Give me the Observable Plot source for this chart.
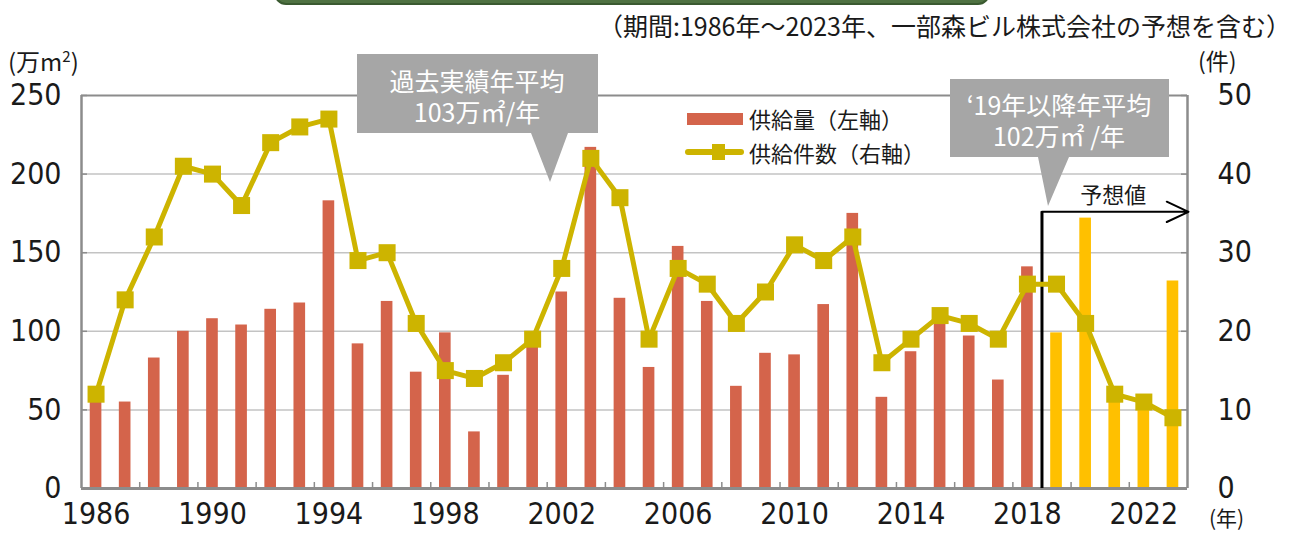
<!DOCTYPE html>
<html><head><meta charset="utf-8">
<script src="https://cdn.jsdelivr.net/npm/d3@7"></script>
<script src="https://cdn.jsdelivr.net/npm/@observablehq/plot@0.6"></script>
<style>
body{margin:0;background:#fff;}
#wrap{position:relative;width:1296px;height:533px;overflow:hidden;font-family:"Liberation Sans Narrow","DejaVu Sans Condensed","Noto Sans CJK JP",sans-serif;color:#1a1a1a;}
.abs{position:absolute;white-space:nowrap;line-height:1;}
.cjk{font-family:"Liberation Sans Narrow","Noto Sans CJK JP",sans-serif;}
</style></head><body>
<div id="wrap">
  <div id="chart" class="abs" style="left:0;top:0"></div>
  <div class="abs" style="left:274px;top:-22px;width:712px;height:23px;background:#4f7242;border:2px solid #3a5a30;border-radius:12px;"></div>
  <div class="abs cjk" style="right:5px;top:13px;font-size:25px;">（期間:1986年～2023年、一部森ビル株式会社の予想を含む）</div>
  <div class="abs cjk" style="left:8px;top:48px;font-size:24px;">(万m<sup style="font-size:15px">2</sup>)</div>
  <div class="abs cjk" style="left:1198px;top:49px;font-size:23px;">(件)</div>
  <div class="abs cjk" style="left:1209px;top:507px;font-size:21px;">(年)</div>
  <!-- legend -->
  <div class="abs" style="left:687px;top:113px;width:56px;height:12px;background:#d4644b;"></div>
  <div class="abs cjk" style="left:749px;top:107px;font-size:22px;">供給量（左軸）</div>
  <div class="abs" style="left:685px;top:149px;width:59px;height:6px;background:#cdb400;border-radius:3px;"></div>
  <div class="abs" style="left:712px;top:144px;width:13px;height:16px;background:#cdb400;"></div>
  <div class="abs cjk" style="left:749px;top:141px;font-size:22px;">供給件数（右軸）</div>
  <!-- callouts -->
  <svg class="abs" style="left:0;top:0" width="1296" height="533">
    <path d="M357,54H598V133H568L550,182L531,133H357Z" fill="#a6a6a6"/>
    <path d="M950,79H1169V157H1069L1048,206L1038,157H950Z" fill="#a6a6a6"/>
    <g fill="#fff" font-size="25" text-anchor="middle" font-family="Liberation Sans Narrow, Noto Sans CJK JP, sans-serif">
      <text x="477" y="91"><tspan x="477">過去実績年平均</tspan><tspan x="477" dy="31">103万㎡/年</tspan></text>
      <text x="1059" y="115"><tspan x="1059">‘19年以降年平均</tspan><tspan x="1059" dy="31">102万㎡ /年</tspan></text>
    </g>
  </svg>
</div>
<script>
// categories
const years = [1986,1987,1988,1989,1990,1991,1992,1993,1994,1995,1996,1997,1998,1999,2000,2001,2002,2003,2004,2005,2006,2007,2008,2009,2010,2011,2012,2013,2014,2015,2016,2017,2018,2019,2020,2021,2022,2023];
// 供給量 (万m2), left axis
const supply = [60,55,83,100,108,104,114,118,183,92,119,74,99,36,72,92,125,217,121,77,154,119,65,86,85,117,175,58,87,107,97,69,141,99,172,57,50,132];
// 供給件数 (件), right axis
const counts = [12,24,32,41,40,36,44,46,47,29,30,21,15,14,16,19,28,42,37,19,28,26,21,25,31,29,32,16,19,22,21,19,26,26,21,12,11,9];
const firstForecastYear = 2019;
// axis ticks
const leftTicks = [0,50,100,150,200,250];
const yearLabels = [1986,1990,1994,1998,2002,2006,2010,2014,2018,2022];
const countPerUnit = 5; // 50件 on the right axis = 250万m2 on the left
const arrowLevel = 176;

const data = years.map((y,i)=>({year:y, supply:supply[i], count:counts[i], forecast:y>=firstForecastYear}));
const x0 = years[0]-0.5, x1 = years[years.length-1]+0.5;
const boundaries = years.filter((y,i)=>i%2===1).map(y=>y+0.5).filter(v=>v<x1);
const gray = "#8c8c8c";
const lineColor = "#cdb400";

const chart = Plot.plot({
  width:1296, height:533,
  marginTop:95, marginBottom:45, marginLeft:81, marginRight:109,
  style:{fontFamily:'"Liberation Sans Narrow","DejaVu Sans Condensed","Noto Sans CJK JP",sans-serif', color:"#1a1a1a", background:"transparent", overflow:"visible"},
  x:{type:"linear", domain:[x0,x1]},
  y:{domain:[0,250]},
  marks:[
    Plot.ruleY([50,100,150,200], {stroke:"#c3c3c3", strokeWidth:1.5}),
    Plot.rectY(data, {x1:d=>d.year-0.2, x2:d=>d.year+0.2, y:"supply", fill:d=>d.forecast?"#ffc000":"#d4644b"}),
    Plot.ruleY([250], {stroke:gray, strokeWidth:2}),
    Plot.ruleX([x0], {y1:0, y2:250, stroke:gray, strokeWidth:2.5}),
    Plot.ruleX([x1], {y1:0, y2:250, stroke:gray, strokeWidth:2.5}),
    Plot.ruleY(leftTicks, {x1:x0, x2:x0, insetRight:-6, stroke:gray, strokeWidth:1.5}),
    Plot.ruleY(leftTicks, {x1:x1, x2:x1, insetLeft:-6, stroke:gray, strokeWidth:1.5}),
    Plot.ruleX(boundaries, {y1:0, y2:0, insetTop:-6, stroke:gray, strokeWidth:1.5}),
    Plot.ruleY([0], {stroke:gray, strokeWidth:3}),
    Plot.ruleX([firstForecastYear-0.5], {y1:0, y2:arrowLevel, stroke:"#000", strokeWidth:3}),
    Plot.arrow([0], {x1:firstForecastYear-0.5, x2:x1, y1:arrowLevel, y2:arrowLevel, stroke:"#000", strokeWidth:2, headLength:18, headAngle:50, insetEnd:-1}),
    Plot.text(["予想値"], {x:(firstForecastYear+x1)/2-0.3, y:arrowLevel, dy:-16, fontSize:22, fill:"#1a1a1a", fontFamily:"Noto Sans CJK JP"}),
    Plot.line(data, {x:"year", y:d=>d.count*countPerUnit, stroke:lineColor, strokeWidth:5}),
    Plot.dot(data, {x:"year", y:d=>d.count*countPerUnit, symbol:"square", r:9.6, fill:lineColor, stroke:null}),
    Plot.axisY(leftTicks, {anchor:"left", tickSize:0, tickPadding:20, fontSize:30, label:null}),
    Plot.axisY(leftTicks, {anchor:"right", tickSize:0, tickPadding:30, fontSize:30, label:null, tickFormat:d=>String(d/countPerUnit)}),
    Plot.axisX(yearLabels, {anchor:"bottom", tickSize:0, tickPadding:14, fontSize:30, label:null, tickFormat:d=>String(d)})
  ]
});
document.getElementById("chart").appendChild(chart);
</script>
</body></html>
